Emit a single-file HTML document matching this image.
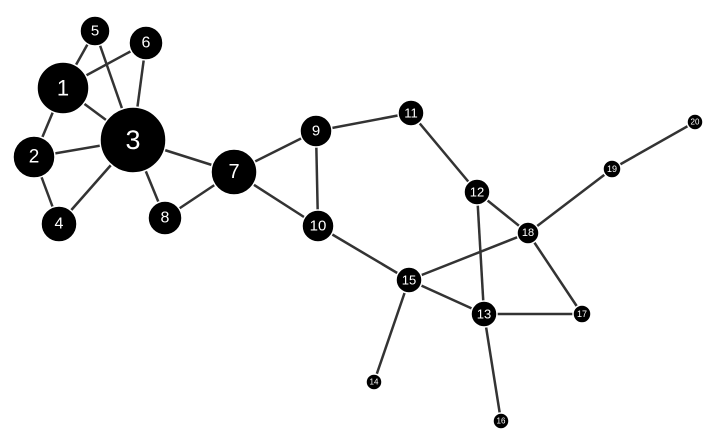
<!DOCTYPE html>
<html><head><meta charset="utf-8"><style>html,body{margin:0;padding:0;background:#fff}</style></head><body>
<svg width="716" height="442" viewBox="0 0 716 442" xmlns="http://www.w3.org/2000/svg">
<g stroke="#333" stroke-width="2.5">
<line x1="63" y1="88" x2="95" y2="31"/><line x1="63" y1="88" x2="146" y2="43"/><line x1="63" y1="88" x2="133" y2="140"/><line x1="63" y1="88" x2="34" y2="157"/>
<line x1="95" y1="31" x2="133" y2="140"/><line x1="146" y1="43" x2="133" y2="140"/><line x1="34" y1="157" x2="133" y2="140"/><line x1="34" y1="157" x2="59" y2="224"/>
<line x1="59" y1="224" x2="133" y2="140"/><line x1="133" y1="140" x2="234" y2="172"/><line x1="133" y1="140" x2="165" y2="218"/><line x1="165" y1="218" x2="234" y2="172"/>
<line x1="234" y1="172" x2="316" y2="131"/><line x1="234" y1="172" x2="318" y2="226"/><line x1="316" y1="131" x2="318" y2="226"/><line x1="316" y1="131" x2="411" y2="113"/>
<line x1="411" y1="113" x2="477" y2="192"/><line x1="477" y1="192" x2="528" y2="233"/><line x1="477" y1="192" x2="484" y2="314"/><line x1="318" y1="226" x2="409" y2="280"/>
<line x1="409" y1="280" x2="528" y2="233"/><line x1="409" y1="280" x2="484" y2="314"/><line x1="409" y1="280" x2="374" y2="382"/><line x1="484" y1="314" x2="582" y2="314"/>
<line x1="484" y1="314" x2="501" y2="421"/><line x1="528" y1="233" x2="582" y2="314"/><line x1="528" y1="233" x2="612" y2="169"/><line x1="612" y1="169" x2="695" y2="122"/>
</g>
<g fill="#000" stroke="#fff" stroke-width="1.5">
<circle cx="63" cy="88" r="26"/><circle cx="34" cy="157" r="21"/><circle cx="133" cy="140" r="33"/><circle cx="59" cy="224" r="18"/>
<circle cx="95" cy="31" r="15"/><circle cx="146" cy="43" r="17"/><circle cx="234" cy="172" r="23"/><circle cx="165" cy="218" r="17"/>
<circle cx="316" cy="131" r="16"/><circle cx="318" cy="226" r="16"/><circle cx="411" cy="113" r="13"/><circle cx="477" cy="192" r="13"/>
<circle cx="484" cy="314" r="13"/><circle cx="374" cy="382" r="8"/><circle cx="409" cy="280" r="13"/><circle cx="501" cy="421" r="8"/>
<circle cx="582" cy="314" r="9"/><circle cx="528" cy="233" r="11"/><circle cx="612" cy="169" r="9"/><circle cx="695" cy="122" r="8"/>
</g>
<g fill="#fff" font-family="Liberation Sans, sans-serif" text-anchor="middle" dominant-baseline="central">
<text x="63" y="88" font-size="22">1</text><text x="34" y="157" font-size="19">2</text><text x="133" y="140" font-size="27">3</text><text x="59" y="224" font-size="16">4</text>
<text x="95" y="31" font-size="15">5</text><text x="146" y="43" font-size="16">6</text><text x="234" y="172" font-size="20">7</text><text x="165" y="218" font-size="16">8</text>
<text x="316" y="131" font-size="15">9</text><text x="318" y="226" font-size="15">10</text><text x="411" y="113" font-size="13">11</text><text x="477" y="192" font-size="13">12</text>
<text x="484" y="314" font-size="13">13</text><text x="374" y="382" font-size="8">14</text><text x="409" y="280" font-size="13">15</text><text x="501" y="421" font-size="8">16</text>
<text x="582" y="314" font-size="9">17</text><text x="528" y="233" font-size="11">18</text><text x="612" y="169" font-size="9">19</text><text x="695" y="122" font-size="8">20</text>
</g>
</svg>
</body></html>
